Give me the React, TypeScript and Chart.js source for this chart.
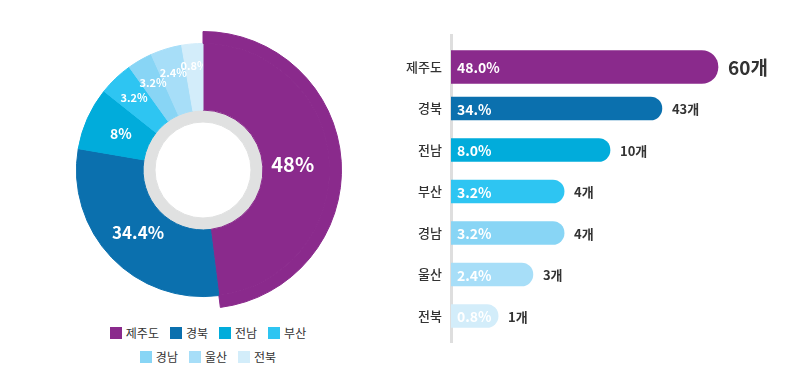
import React, { useEffect, useRef } from 'react';
import { Chart, registerables } from 'chart.js';

Chart.register(...registerables);

// ---- data ----
const regions = ['제주도', '경북', '전남', '부산', '경남', '울산', '전북'];
const counts = [60, 43, 10, 4, 4, 3, 1];
const donutPercents = [48, 34.4, 8, 3.2, 3.2, 2.4, 0.8];
// arc sizes as drawn in the reference donut (not strictly proportional)
const donutArcs = [48, 29.7, 8, 4.4, 3.2, 4.0, 2.7];
const barPercentLabels = ['48.0%', '34.%', '8.0%', '3.2%', '3.2%', '2.4%', '0.8%'];
// bar lengths as drawn in the reference (0-100 scale)
const barLengths = [89, 70.3, 53, 37.7, 37.7, 27.3, 15.7];

const colors = ['#8a2a8c', '#0b70ae', '#01acdb', '#2ec5f2', '#88d5f5', '#a7def8', '#d3edfa'];
const ringGray = '#e0e1e1';
const FONT = '"Noto Sans CJK KR", "Noto Sans", sans-serif';

const donutLabels = {
  id: 'donutLabels',
  afterDatasetsDraw(chart: any) {
    const meta = chart.getDatasetMeta(1);
    const ctx = chart.ctx;
    const first = meta.data[0].getProps(['x', 'y', 'startAngle', 'endAngle', 'outerRadius'], true);
    meta.data.forEach((arc: any, i: number) => {
      const { x, y, startAngle, endAngle, innerRadius, outerRadius } = arc.getProps(
        ['x', 'y', 'startAngle', 'endAngle', 'innerRadius', 'outerRadius'],
        true
      );
      const v = donutPercents[i];
      const mid = (startAngle + endAngle) / 2;
      const f = v >= 5 ? 0.45 : 0.55 + (5 - v) * 0.03;
      const r = innerRadius + (outerRadius - innerRadius) * f;
      const size = v >= 40 ? 20 : v >= 20 ? 17 : v >= 5 ? 14 : 11;
      ctx.save();
      if (i > 0) {
        // labels of the other slices are hidden beneath the highlighted slice
        ctx.beginPath();
        ctx.moveTo(first.x, first.y);
        ctx.arc(first.x, first.y, first.outerRadius + 20, first.endAngle, first.startAngle + Math.PI * 2);
        ctx.closePath();
        ctx.clip();
      }
      ctx.fillStyle = '#ffffff';
      ctx.font = `bold ${size}px ${FONT}`;
      ctx.textAlign = 'center';
      ctx.textBaseline = 'middle';
      ctx.fillText(`${v}%`, x + Math.cos(mid) * r, y + Math.sin(mid) * r);
      ctx.restore();
    });
  },
};

const barLabels = {
  id: 'barLabels',
  afterDatasetsDraw(chart: any) {
    const ctx = chart.ctx;
    regions.forEach((_, i) => {
      const dsIndex = chart.data.datasets[0].data[i] != null ? 0 : 1;
      const el = chart.getDatasetMeta(dsIndex).data[i];
      const { x, y, base } = el.getProps(['x', 'y', 'base'], true);
      ctx.save();
      ctx.textBaseline = 'middle';
      ctx.textAlign = 'left';
      ctx.fillStyle = '#ffffff';
      ctx.font = `bold 14px ${FONT}`;
      ctx.fillText(barPercentLabels[i], base + 6, y + 1);
      ctx.fillStyle = '#333333';
      ctx.font = i === 0 ? `bold 19px ${FONT}` : `bold 13px ${FONT}`;
      ctx.fillText(`${counts[i]}개`, x + 10, y + 1);
      ctx.restore();
    });
  },
};

function Donut() {
  const ref = useRef<HTMLCanvasElement>(null);
  useEffect(() => {
    const chart = new Chart(ref.current as HTMLCanvasElement, {
      type: 'doughnut',
      data: {
        labels: regions,
        datasets: [
          {
            data: donutArcs,
            backgroundColor: colors.map((c, i) => (i === 0 ? c : 'rgba(0,0,0,0)')),
            borderColor: colors.map((c, i) => (i === 0 ? c : 'rgba(0,0,0,0)')),
            borderWidth: 1,
            weight: 12,
          } as any,
          {
            data: donutArcs,
            backgroundColor: colors,
            borderColor: colors,
            borderWidth: 1,
            weight: 67,
          } as any,
          {
            data: [1],
            backgroundColor: [ringGray],
            borderColor: [ringGray],
            borderWidth: 1,
            weight: 12,
          } as any,
        ],
      },
      options: {
        animation: false,
        responsive: false,
        cutout: 48,
        events: [],
        layout: { padding: 6 },
        plugins: { legend: { display: false }, tooltip: { enabled: false } },
      } as any,
      plugins: [donutLabels],
    });
    return () => chart.destroy();
  }, []);
  return (
    <canvas
      ref={ref}
      width={290}
      height={290}
      style={{ position: 'absolute', left: 58, top: 25, width: 290, height: 290 }}
    />
  );
}

function Bars() {
  const ref = useRef<HTMLCanvasElement>(null);
  useEffect(() => {
    const highlight = barLengths.map((v, i) => (i === 0 ? v : null));
    const rest = barLengths.map((v, i) => (i === 0 ? null : v));
    const radius = { topLeft: 0, bottomLeft: 0, topRight: 50, bottomRight: 50 };
    const chart = new Chart(ref.current as HTMLCanvasElement, {
      type: 'bar',
      data: {
        labels: regions,
        datasets: [
          { data: highlight, backgroundColor: colors, barThickness: 33, borderRadius: radius, grouped: false } as any,
          { data: rest, backgroundColor: colors, barThickness: 23, borderRadius: radius, grouped: false } as any,
        ],
      },
      options: {
        indexAxis: 'y',
        animation: false,
        responsive: false,
        events: [],
        layout: { padding: { top: 35, bottom: 43, right: 58, left: 0 } },
        scales: {
          x: { display: false, min: 0, max: 100 },
          y: {
            grid: { display: false, drawTicks: false },
            border: { display: true, color: '#dedede', width: 3 },
            ticks: { color: '#333333', font: { family: FONT, size: 13, weight: '500' }, padding: 9 },
            afterFit: (s: any) => {
              s.width = 70;
            },
            afterBuildTicks: (s: any) => {
              s._startValue = -0.771;
              s._valueRange = 7.398;
            },
          },
        },
        plugins: { legend: { display: false }, tooltip: { enabled: false } },
      } as any,
      plugins: [barLabels],
    });
    return () => chart.destroy();
  }, []);
  return (
    <canvas
      ref={ref}
      width={428}
      height={385}
      style={{ position: 'absolute', left: 381, top: 0, width: 428, height: 385 }}
    />
  );
}

function Legend() {
  return (
    <div
      style={{
        position: 'absolute',
        left: 88,
        top: 325,
        width: 240,
        display: 'flex',
        flexWrap: 'wrap',
        justifyContent: 'center',
        columnGap: 11,
        rowGap: 8,
        fontFamily: FONT,
        fontSize: 12,
        color: '#333333',
      }}
    >
      {regions.map((r, i) => (
        <div key={r} style={{ display: 'flex', alignItems: 'center', height: 16, lineHeight: '16px' }}>
          <span style={{ display: 'inline-block', width: 12, height: 12, background: colors[i], marginRight: 4 }} />
          <span>{r}</span>
        </div>
      ))}
    </div>
  );
}

export default function App() {
  return (
    <div style={{ position: 'absolute', left: 0, top: 0, width: 809, height: 385, background: '#ffffff', overflow: 'hidden' }}>
      <Donut />
      <Bars />
      <Legend />
    </div>
  );
}
